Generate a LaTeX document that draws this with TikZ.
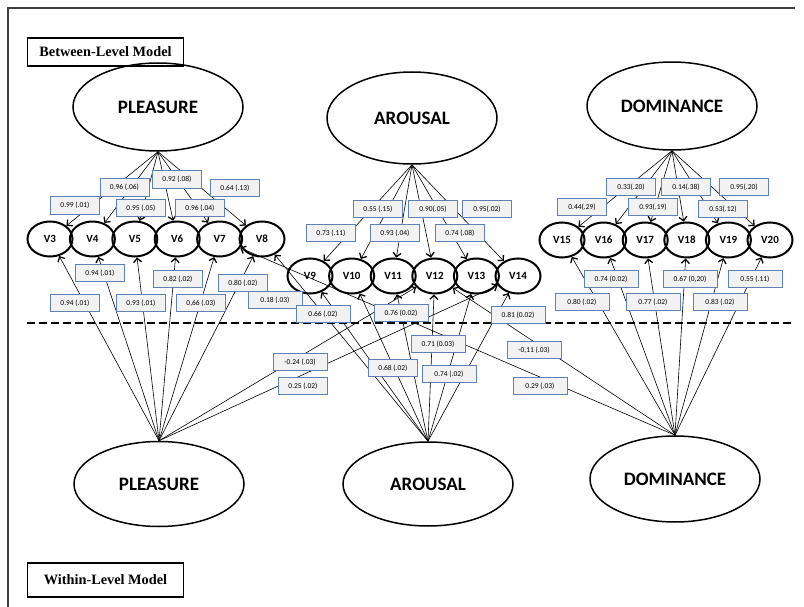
\documentclass[tikz,border=0pt]{standalone}
\usepackage{fontspec}
\setmainfont{Carlito}
\newfontfamily\titlefont{Liberation Serif}
\usetikzlibrary{arrows.meta, shapes.geometric}
\definecolor{boxblue}{RGB}{95,130,180}
\definecolor{boxgray}{RGB}{242,242,242}
\tikzset{
  fac/.style={ellipse, draw, line width=1.5pt, minimum width=170pt,
    minimum height=88pt, inner sep=0pt,
    font=\fontsize{19}{21}\selectfont\bfseries},
  obs/.style={ellipse, draw, line width=2pt, minimum width=45pt,
    minimum height=35pt, inner sep=0pt,
    font=\fontsize{11}{13}\selectfont\bfseries},
  lbl/.style={rectangle, draw=boxblue, fill=boxgray, line width=1pt,
    inner xsep=2pt, inner ysep=0pt, minimum width=49pt,
    minimum height=17.5pt, font=\fontsize{7.5}{9}\selectfont},
  lblw/.style={lbl, minimum width=54pt},
  lvl/.style={rectangle, draw, line width=1.6pt, inner sep=0pt,
    minimum width=156pt,
    font=\titlefont\fontsize{14.3}{16}\selectfont\bfseries},
  arr/.style={-{Straight Barb[length=4pt,width=8pt,line width=1.3pt]},
    line width=0.6pt},
}

\begin{document}
\begin{tikzpicture}[x=1pt, y=-1pt]
  \useasboundingbox (0,0) rectangle (804,607);

  % ---- frame and level split ----
  \draw[line width=1.4pt, black!75] (8,607) -- (8,8) -- (795,8);
  \draw[line width=2.4pt, dash pattern=on 8pt off 4pt] (27,323) -- (793,323);

  % ---- level titles ----
  \node[lvl, minimum height=28pt] (between) at (105.5,52) {Between-Level Model};
  \node[lvl, minimum height=34pt] (within) at (105.5,580) {Within-Level Model};

  % ---- between factors ----
  \node[fac] (pb) at (158,107) {PLEASURE};
  \node[fac, minimum height=92pt] (ab) at (412,118) {AROUSAL};
  \node[fac] (db) at (672,106) {DOMINANCE};

  % ---- within factors ----
  \node[fac, minimum height=85pt] (pw) at (159,484) {PLEASURE};
  \node[fac, minimum height=84pt] (aw) at (428,484) {AROUSAL};
  \node[fac, minimum height=86pt] (dw) at (675,479) {DOMINANCE};

  % ---- items ----
  \foreach \i in {0,...,5} {
    \pgfmathtruncatemacro\n{\i+3}
    \node[obs] (v\n) at (50+42.4*\i,239) {V\n};
    \pgfmathtruncatemacro\n{\i+9}
    \node[obs] (v\n) at (310+41.6*\i,276) {V\n};
    \pgfmathtruncatemacro\n{\i+15}
    \node[obs] (v\n) at (562+41.6*\i,240) {V\n};
  }

  % ---- between loadings ----
  \foreach \n in {3,...,8} \draw[arr] (pb.south) -- (v\n);
  \foreach \n in {9,...,14} \draw[arr] (ab.south) -- (v\n);
  \foreach \n in {15,...,20} \draw[arr] (db.south) -- (v\n);

  % ---- within loadings ----
  \foreach \n in {3,4,5,6,7,8,12,14} \draw[arr] (pw.north) -- (v\n);
  \foreach \n in {8,9,10,11,12,13,14} \draw[arr] (aw.north) -- (v\n);
  \foreach \n in {7,12,15,16,17,18,19,20} \draw[arr] (dw.north) -- (v\n);

  % ---- estimates, between ----
  \node[lbl] (b3)  at (75,205.5)    {0.99 (.01)};
  \node[lbl] (b4)  at (124.5,187.5) {0.96 (.06)};
  \node[lbl] (b5)  at (141,208)     {0.95 (.05)};
  \node[lbl] (b6)  at (177,179.5)   {0.92 (.08)};
  \node[lbl] (b7)  at (200,208)     {0.96 (.04)};
  \node[lbl] (b8)  at (235,188)     {0.64 (.13)};
  \node[lbl] (b9)  at (331,233)     {0.73 (.11)};
  \node[lbl] (b10) at (378,209)     {0.55 (.15)};
  \node[lbl] (b11) at (395,233)     {0.93 (.04)};
  \node[lbl] (b12) at (433,209)     {0.90(.05)};
  \node[lbl] (b13) at (460,233)     {0.74 (.08)};
  \node[lbl] (b14) at (487,209)     {0.95(.02)};
  \node[lbl] (b15) at (582,207)     {0.44(.29)};
  \node[lbl] (b16) at (631,187)     {0.33(.20)};
  \node[lbl] (b17) at (653,207)     {0.93(.19)};
  \node[lbl] (b18) at (686,187)     {0.14(.38)};
  \node[lbl] (b19) at (723,209)     {0.53(.12)};
  \node[lbl] (b20) at (744,187)     {0.95(.20)};

  % ---- estimates, within ----
  \node[lbl]  (w3)   at (75,303)  {0.94 (.01)};
  \node[lbl]  (w4)   at (100,273) {0.94 (.01)};
  \node[lbl]  (w5)   at (141,303) {0.93 (.01)};
  \node[lbl]  (w6)   at (178,279) {0.82 (.02)};
  \node[lbl]  (w7)   at (201,303) {0,66 (.03)};
  \node[lbl]  (w8)   at (243,283) {0.80 (.02)};
  \node[lblw] (wp12) at (300,362) {-0.24 (.03)};
  \node[lbl]  (wp14) at (303,386) {0.25 (.02)};
  \node[lblw] (wa8)  at (275,300) {0.18 (.03)};
  \node[lblw] (w9)   at (323,314) {0.66 (.02)};
  \node[lbl]  (w10)  at (393,368) {0.68 (.02)};
  \node[lblw] (w11)  at (401,313) {0.76 (0.02)};
  \node[lblw] (w12)  at (438,344) {0.71 (0.03)};
  \node[lblw] (w13)  at (449,374) {0.74 (.02)};
  \node[lblw] (w14)  at (518,315) {0.81 (0.02)};
  \node[lblw] (w15)  at (582,302) {0.80 (.02)};
  \node[lblw] (w16)  at (611,279) {0.74 (0.02)};
  \node[lblw] (w17)  at (653,302) {0.77 (.02)};
  \node[lblw] (w18)  at (690,279) {0.67 (0,20)};
  \node[lblw] (w19)  at (720,302) {0.83 (.02)};
  \node[lblw] (w20)  at (755,279) {0.55 (.11)};
  \node[lblw] (wd12) at (534,350) {-0,11 (.03)};
  \node[lblw] (wd7)  at (540,386) {0.29 (.03)};
\end{tikzpicture}
\end{document}
